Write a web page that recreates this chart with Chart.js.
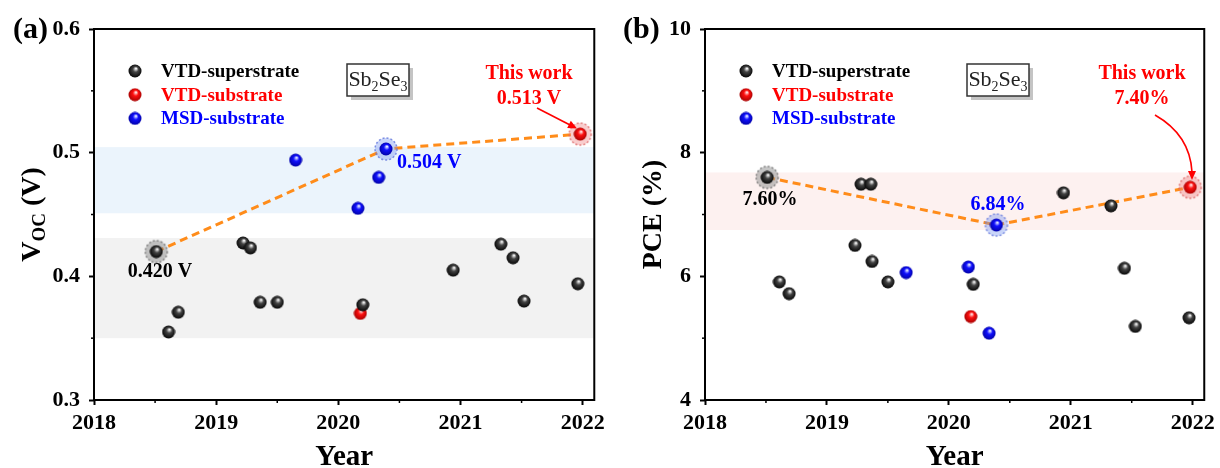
<!DOCTYPE html>
<html>
<head>
<meta charset="utf-8">
<script src="https://cdn.jsdelivr.net/npm/chart.js@4.4.1/dist/chart.umd.min.js"></script>
<style>
html, body { margin: 0; padding: 0; background: #fff; }
#wrap { position: relative; width: 1220px; height: 468px; }
canvas { position: absolute; top: 0; }
</style>
</head>
<body>
<div id="wrap">
  <canvas id="chartA" width="610" height="468" style="left:0;width:610px;height:468px"></canvas>
  <canvas id="chartB" width="610" height="468" style="left:610px;width:610px;height:468px"></canvas>
</div>
<script>
// --- data ---
const vocSuperYear = [2018.51, 2018.61, 2018.69, 2019.22, 2019.28, 2019.36, 2019.50, 2020.20, 2020.94, 2021.33, 2021.43, 2021.52, 2021.96];
const vocSuper     = [0.420, 0.355, 0.371, 0.427, 0.423, 0.379, 0.379, 0.377, 0.405, 0.426, 0.415, 0.380, 0.394];
const vocSubYear   = [2020.18, 2021.98];
const vocSub       = [0.370, 0.515];
const vocMsdYear   = [2019.65, 2020.16, 2020.33, 2020.39];
const vocMsd       = [0.494, 0.455, 0.480, 0.503];
const vocTrendYear = [2018.51, 2020.39, 2021.98];
const vocTrend     = [0.420, 0.503, 0.515];
const vocBlueBand  = [0.451, 0.5045];
const vocGrayBand  = [0.350, 0.431];

const pceSuperYear = [2018.51, 2018.61, 2018.69, 2019.23, 2019.28, 2019.36, 2019.37, 2019.50, 2020.20, 2020.94, 2021.33, 2021.44, 2021.53, 2021.97];
const pceSuper     = [7.60, 5.91, 5.72, 6.50, 7.49, 7.49, 6.24, 5.91, 5.87, 7.35, 7.14, 6.13, 5.19, 5.33];
const pceSubYear   = [2020.18, 2021.98];
const pceSub       = [5.35, 7.44];
const pceMsdYear   = [2019.65, 2020.16, 2020.33, 2020.39];
const pceMsd       = [6.06, 6.15, 5.08, 6.83];
const pceTrendYear = [2018.51, 2020.39, 2021.98];
const pceTrend     = [7.60, 6.83, 7.44];
const pcePinkBand  = [6.75, 7.68];

const legendNames = ['VTD-superstrate', 'VTD-substrate', 'MSD-substrate'];

const SERIF = '"Liberation Serif", "Times New Roman", serif';

// shaded ball markers
function sphere(hi, mid, dark) {
    const c = document.createElement('canvas');
    c.width = c.height = 14;
    const g = c.getContext('2d');
    const grd = g.createRadialGradient(8, 4.5, 0.5, 7, 7, 7);
    grd.addColorStop(0, hi);
    grd.addColorStop(0.35, mid);
    grd.addColorStop(1, dark);
    g.fillStyle = grd;
    g.beginPath(); g.arc(7, 7, 6.5, 0, Math.PI * 2); g.fill();
    return c;
}
function halo(fill, edge) {
    const c = document.createElement('canvas');
    c.width = c.height = 26;
    const g = c.getContext('2d');
    g.fillStyle = fill;
    g.beginPath(); g.arc(13, 13, 11, 0, Math.PI * 2); g.fill();
    g.setLineDash([2, 2]); g.strokeStyle = edge; g.lineWidth = 1.5; g.stroke();
    return c;
}
const ballBlack = sphere('#f0f0f0', '#444', '#000');
const ballRed = sphere('#ffe0e0', '#ff1010', '#a00000');
const ballBlue = sphere('#e0e8ff', '#1010ff', '#0000a0');
const halos = [
    halo('rgba(150,150,150,0.55)', 'rgba(110,110,110,0.8)'),
    halo('rgba(120,150,240,0.40)', 'rgba(100,120,220,0.8)'),
    halo('rgba(240,130,130,0.40)', 'rgba(220,100,100,0.8)')
];

function pts(xs, ys) { return xs.map((x, i) => ({ x: x, y: ys[i] })); }

function arrowHead(ctx, x, y, ang, color) {
    ctx.save();
    ctx.translate(x, y); ctx.rotate(ang);
    ctx.fillStyle = color;
    ctx.beginPath(); ctx.moveTo(0, 0); ctx.lineTo(-9, -4); ctx.lineTo(-9, 4); ctx.closePath(); ctx.fill();
    ctx.restore();
}

// frame, minor ticks, titles, legend, notes
function makeDeco(cfg) {
    return {
        id: 'deco',
        beforeDatasetsDraw(chart) {
            const { ctx, chartArea: a, scales: { y } } = chart;
            cfg.bands.forEach(b => {
                const top = y.getPixelForValue(b.range[1]);
                const bot = y.getPixelForValue(b.range[0]);
                ctx.fillStyle = b.color;
                ctx.fillRect(a.left, top, a.right - a.left, bot - top);
            });
        },
        afterDraw(chart) {
            const { ctx, chartArea: a, scales: { x, y } } = chart;
            ctx.save();
            ctx.strokeStyle = '#000';
            ctx.lineWidth = 2;
            ctx.strokeRect(a.left, a.top, a.right - a.left, a.bottom - a.top);
            // minor ticks
            ctx.lineWidth = 1.5;
            [2018.5, 2019.5, 2020.5, 2021.5].forEach(v => {
                const px = x.getPixelForValue(v);
                ctx.beginPath(); ctx.moveTo(px, a.bottom); ctx.lineTo(px, a.bottom + 3); ctx.stroke();
            });
            cfg.yMinor.forEach(v => {
                const py = y.getPixelForValue(v);
                ctx.beginPath(); ctx.moveTo(a.left, py); ctx.lineTo(a.left - 3, py); ctx.stroke();
            });

            ctx.fillStyle = '#000';
            // panel letter
            ctx.font = 'bold 30px ' + SERIF;
            ctx.textAlign = 'left'; ctx.textBaseline = 'alphabetic';
            ctx.fillText(cfg.letter, 13, 38);
            // x title
            ctx.font = 'bold 29px ' + SERIF;
            ctx.textAlign = 'center';
            ctx.fillText('Year', (a.left + a.right) / 2, 465);
            // y title
            ctx.save();
            ctx.translate(cfg.yTitleX, (a.top + a.bottom) / 2);
            ctx.rotate(-Math.PI / 2);
            ctx.textAlign = 'left';
            const parts = cfg.yTitle;
            let w = 0;
            parts.forEach(p => { ctx.font = 'bold ' + p.size + 'px ' + SERIF; w += ctx.measureText(p.t).width; });
            let cx = -w / 2;
            parts.forEach(p => {
                ctx.font = 'bold ' + p.size + 'px ' + SERIF;
                ctx.fillText(p.t, cx, p.dy || 0);
                cx += ctx.measureText(p.t).width;
            });
            ctx.restore();

            // legend
            const balls = [ballBlack, ballRed, ballBlue];
            const cols = ['#000', '#ff0000', '#0000ff'];
            ctx.font = 'bold 19px ' + SERIF;
            ctx.textAlign = 'left'; ctx.textBaseline = 'middle';
            legendNames.forEach((n, i) => {
                const ly = 71 + i * 23.7;
                ctx.drawImage(balls[i], cfg.legX - 7, ly - 7);
                ctx.fillStyle = cols[i];
                ctx.fillText(n, cfg.legX + 26, ly + 1);
            });

            // Sb2Se3 box
            const bx = cfg.boxX, by = 64, bw = 62, bh = 32;
            ctx.fillStyle = '#c4c4c4';
            ctx.fillRect(bx + 4, by + 4, bw, bh);
            ctx.fillStyle = '#fff';
            ctx.fillRect(bx, by, bw, bh);
            ctx.strokeStyle = '#333'; ctx.lineWidth = 1.5;
            ctx.strokeRect(bx, by, bw, bh);
            ctx.fillStyle = '#222';
            ctx.textBaseline = 'alphabetic';
            const sb = [{ t: 'Sb', s: 22, dy: 0 }, { t: '2', s: 14, dy: 5 }, { t: 'Se', s: 22, dy: 0 }, { t: '3', s: 14, dy: 5 }];
            let sw = 0;
            sb.forEach(p => { ctx.font = p.s + 'px ' + SERIF; sw += ctx.measureText(p.t).width; });
            let sx = bx + (bw - sw) / 2;
            sb.forEach(p => {
                ctx.font = p.s + 'px ' + SERIF;
                ctx.fillText(p.t, sx, by + 22 + p.dy);
                sx += ctx.measureText(p.t).width;
            });

            // notes
            ctx.font = 'bold 20px ' + SERIF;
            cfg.notes.forEach(n => {
                ctx.fillStyle = n.color;
                ctx.textAlign = n.align || 'center';
                ctx.fillText(n.t, n.x, n.y);
            });
            cfg.arrow(ctx);
            ctx.restore();
        }
    };
}

function buildChart(id, cfg) {
    const tickFont = { family: SERIF, size: 22, weight: 'bold' };
    return new Chart(document.getElementById(id), {
        type: 'scatter',
        data: {
            datasets: [
                { data: pts(cfg.superYear, cfg.superVal), pointStyle: ballBlack, pointRadius: 7 },
                { data: pts(cfg.subYear, cfg.subVal), pointStyle: ballRed, pointRadius: 7 },
                { data: pts(cfg.msdYear, cfg.msdVal), pointStyle: ballBlue, pointRadius: 7 },
                {
                    data: pts(cfg.trendYear, cfg.trendVal),
                    showLine: true,
                    borderColor: '#ff8c1a',
                    borderWidth: 3,
                    borderDash: [8, 5],
                    pointStyle: halos,
                    pointRadius: 11
                }
            ]
        },
        options: {
            responsive: false,
            animation: false,
            events: [],
            layout: { padding: { top: 29, right: 13, left: 0, bottom: 0 } },
            plugins: { legend: { display: false }, tooltip: { enabled: false } },
            scales: {
                x: {
                    type: 'linear',
                    min: 2018,
                    max: 2022.095,
                    afterFit: s => { s.height = 68; },
                    ticks: {
                        stepSize: 1,
                        includeBounds: false,
                        maxRotation: 0,
                        padding: 5,
                        color: '#000',
                        font: tickFont,
                        callback: v => String(v)
                    },
                    grid: { display: true, drawOnChartArea: false, drawTicks: true, tickLength: 5, tickWidth: 2, tickColor: '#000' },
                    border: { display: false }
                },
                y: {
                    type: 'linear',
                    min: cfg.yMin,
                    max: cfg.yMax,
                    afterFit: s => { s.width = cfg.yWidth; },
                    ticks: {
                        stepSize: cfg.yStep,
                        padding: 9,
                        color: '#000',
                        font: tickFont,
                        callback: cfg.yFmt
                    },
                    grid: { display: true, drawOnChartArea: false, drawTicks: true, tickLength: 5, tickWidth: 2, tickColor: '#000' },
                    border: { display: false }
                }
            }
        },
        plugins: [makeDeco(cfg)]
    });
}

buildChart('chartA', {
    superYear: vocSuperYear, superVal: vocSuper,
    subYear: vocSubYear, subVal: vocSub,
    msdYear: vocMsdYear, msdVal: vocMsd,
    trendYear: vocTrendYear, trendVal: vocTrend,
    yMin: 0.3, yMax: 0.6, yStep: 0.1, yWidth: 94,
    yFmt: v => v.toFixed(1),
    yMinor: [0.35, 0.45, 0.55],
    bands: [{ range: vocBlueBand, color: '#ebf4fc' }, { range: vocGrayBand, color: '#f2f2f2' }],
    letter: '(a)',
    yTitleX: 40,
    yTitle: [{ t: 'V', size: 28 }, { t: 'OC', size: 19, dy: 5 }, { t: ' (V)', size: 28 }],
    legX: 135,
    boxX: 347,
    notes: [
        { t: 'This work', x: 529, y: 79, color: '#ff0000' },
        { t: '0.513 V', x: 529, y: 104, color: '#ff0000' },
        { t: '0.504 V', x: 397, y: 168, color: '#0000ff', align: 'left' },
        { t: '0.420 V', x: 160, y: 277, color: '#000' }
    ],
    arrow: ctx => {
        ctx.strokeStyle = '#ff0000'; ctx.lineWidth = 1.6;
        ctx.beginPath(); ctx.moveTo(537, 108); ctx.lineTo(572, 126); ctx.stroke();
        arrowHead(ctx, 577, 128.5, Math.atan2(20, 39), '#ff0000');
    }
});

buildChart('chartB', {
    superYear: pceSuperYear, superVal: pceSuper,
    subYear: pceSubYear, subVal: pceSub,
    msdYear: pceMsdYear, msdVal: pceMsd,
    trendYear: pceTrendYear, trendVal: pceTrend,
    yMin: 4, yMax: 10, yStep: 2, yWidth: 95,
    yFmt: v => String(v),
    yMinor: [5, 7, 9],
    bands: [{ range: pcePinkBand, color: '#fdf1f0' }],
    letter: '(b)',
    yTitleX: 51,
    yTitle: [{ t: 'PCE (%)', size: 28 }],
    legX: 136,
    boxX: 357,
    notes: [
        { t: 'This work', x: 532, y: 79, color: '#ff0000' },
        { t: '7.40%', x: 532, y: 104, color: '#ff0000' },
        { t: '7.60%', x: 160, y: 205, color: '#000' },
        { t: '6.84%', x: 388, y: 210, color: '#0000ff' }
    ],
    arrow: ctx => {
        ctx.strokeStyle = '#ff0000'; ctx.lineWidth = 1.6;
        ctx.beginPath(); ctx.moveTo(545, 115); ctx.quadraticCurveTo(580, 135, 582, 172); ctx.stroke();
        arrowHead(ctx, 582, 180, Math.PI / 2, '#ff0000');
    }
});
</script>
</body>
</html>
